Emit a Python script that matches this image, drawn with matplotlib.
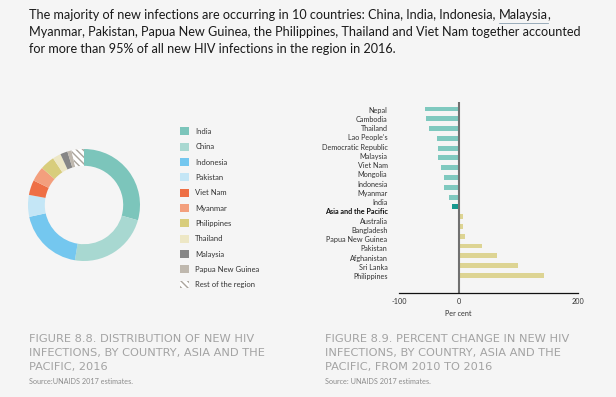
import matplotlib.pyplot as plt
from matplotlib.lines import Line2D
import numpy as np

plt.rcParams['font.family'] = ['Lato', 'DejaVu Sans']

# donut: share of new HIV infections 2016 (%)
donut_labels = ["India", "China", "Indonesia", "Pakistan", "Viet Nam", "Myanmar",
                "Philippines", "Thailand", "Malaysia", "Papua New Guinea", "Rest of the region"]
donut_shares = [29.4, 23.2, 19.0, 6.3, 4.3, 4.3, 4.2, 2.4, 2.1, 1.2, 3.6]
donut_colors = ["#7cc5bb", "#a8d8d1", "#74c7ef", "#c4e6f6", "#ee6f45", "#f39f7d",
                "#d8cd7c", "#ede7c5", "#868686", "#bfb8ae", "#ffffff"]

# bars: percent change 2010-2016
bar_labels = ["Nepal", "Cambodia", "Thailand", "Lao People's\nDemocratic Republic", "Malaysia",
              "Viet Nam", "Mongolia", "Indonesia", "Myanmar", "India", "Asia and the Pacific",
              "Australia", "Bangladesh", "Papua New Guinea", "Pakistan", "Afghanistan",
              "Sri Lanka", "Philippines"]
bar_values = [-57, -54, -49, -37, -35, -35, -30, -25, -25, -17, -12,
              7, 8, 10, 39, 64, 99, 143]
x_ticks = [-100, 0, 200]

bg = "#f5f5f5"
W, H = 616, 397
fig = plt.figure(figsize=(W / 100, H / 100), dpi=100, facecolor=bg)

def fx(px):
    return px / W

def fy(py):
    return 1 - py / H

# overlay axes for free text
ax0 = fig.add_axes([0, 0, 1, 1])
ax0.axis("off")
ax0.set_xlim(0, 1)
ax0.set_ylim(0, 1)

# header text
hdr_size = 9.05
hdr_col = "#1a1a1a"
prefix = "The majority of new infections are occurring in 10 countries: China, India, Indonesia, "
t1 = ax0.text(fx(29), fy(15), prefix, fontsize=hdr_size, color=hdr_col, va="center")
t2 = ax0.annotate("Malaysia", xy=(1, 0), xycoords=t1, va="bottom", fontsize=hdr_size, color=hdr_col)
t3 = ax0.annotate(",", xy=(1, 0), xycoords=t2, va="bottom", fontsize=hdr_size, color=hdr_col)
ax0.text(fx(29), fy(32), "Myanmar, Pakistan, Papua New Guinea, the Philippines, Thailand and Viet Nam together accounted",
         fontsize=hdr_size, color=hdr_col, va="center")
ax0.text(fx(29), fy(49), "for more than 95% of all new HIV infections in the region in 2016.",
         fontsize=hdr_size, color=hdr_col, va="center")

# donut
ax1 = fig.add_axes([fx(28), fy(261), fx(112), 112 / H])
wedges, _ = ax1.pie(donut_shares, colors=donut_colors, startangle=90, counterclock=False,
                    wedgeprops=dict(width=0.3, linewidth=0))
wedges[-1].set_hatch("\\\\\\\\\\")
wedges[-1].set_edgecolor("#aaa49c")
ax1.set_xlim(-1, 1)
ax1.set_ylim(-1, 1)
ax1.set_aspect("equal")
ax1.axis("off")

fig.legend(wedges, donut_labels, loc="upper left", bbox_to_anchor=(fx(180), fy(127.5)),
           frameon=False, fontsize=5.5, handlelength=1.2, handleheight=1.2,
           labelspacing=0.98, handletextpad=0.8, borderpad=0, borderaxespad=0,
           labelcolor="#333333")

# bars
ax2 = fig.add_axes([fx(399), fy(293.3), fx(578 - 399), 191.6 / H])
ax2.set_facecolor(bg)
y = np.arange(len(bar_values))
cols = []
for lab, v in zip(bar_labels, bar_values):
    if lab == "Asia and the Pacific":
        cols.append("#17998f")
    elif v < 0:
        cols.append("#7fc9bf")
    else:
        cols.append("#ddd493")
ax2.barh(y, bar_values, height=0.5, color=cols)
ax2.axvline(0, color="#707070", lw=1.5)
ax2.set_xlim(-100, 200)
ax2.set_ylim(18.84, -0.75)
ax2.set_yticks([])
ax2.set_xticks(x_ticks)
ax2.set_xticklabels([str(v) for v in x_ticks], fontsize=5.2, color="#333333")
ax2.tick_params(axis="x", length=0, pad=3.5)
for s in ["top", "right", "left"]:
    ax2.spines[s].set_visible(False)
ax2.spines["bottom"].set_color("#111111")
ax2.spines["bottom"].set_linewidth(0.9)
ax2.text(0, -(313 - 293.3) / 191.6, "Per cent", transform=ax2.get_xaxis_transform(),
         ha="center", va="center", fontsize=5.2, color="#333333")

# category names as an evenly spaced column (as in the source layout)
lines = []
for lab in bar_labels:
    for part in lab.split("\n"):
        lines.append((part, lab == "Asia and the Pacific"))
row_px = (276.7 - 110) / (len(lines) - 1)
for i, (txt, bold) in enumerate(lines):
    ax0.text(fx(387.5), fy(110 + i * row_px), txt, ha="right", va="center", fontsize=5.2,
             color="#111111" if bold else "#333333", fontweight="bold" if bold else "normal")

# captions
cap_col = "#a3a3a3"
cap_kw = dict(fontsize=8.2, color=cap_col, family="DejaVu Sans", va="center")
src_kw = dict(fontsize=5.2, color="#8c8c8c", va="center")
ax0.text(fx(29), fy(339), "FIGURE 8.8. DISTRIBUTION OF NEW HIV", **cap_kw)
ax0.text(fx(29), fy(353), "INFECTIONS, BY COUNTRY, ASIA AND THE", **cap_kw)
ax0.text(fx(29), fy(367), "PACIFIC, 2016", **cap_kw)
ax0.text(fx(29), fy(381), "Source:UNAIDS 2017 estimates.", **src_kw)
ax0.text(fx(325), fy(339), "FIGURE 8.9. PERCENT CHANGE IN NEW HIV", **cap_kw)
ax0.text(fx(325), fy(353), "INFECTIONS, BY COUNTRY, ASIA AND THE", **cap_kw)
ax0.text(fx(325), fy(367), "PACIFIC, FROM 2010 TO 2016", **cap_kw)
ax0.text(fx(325), fy(381), "Source: UNAIDS 2017 estimates.", **src_kw)

# underline under Malaysia
r = fig.canvas.get_renderer()
bb = t2.get_window_extent(r)
ul_y = fy(22.5)
ax0.add_line(Line2D([bb.x0 / W, bb.x1 / W], [ul_y, ul_y], color="#8aa0b0", lw=0.6))

fig.savefig("out.png", dpi=100, facecolor=bg)
